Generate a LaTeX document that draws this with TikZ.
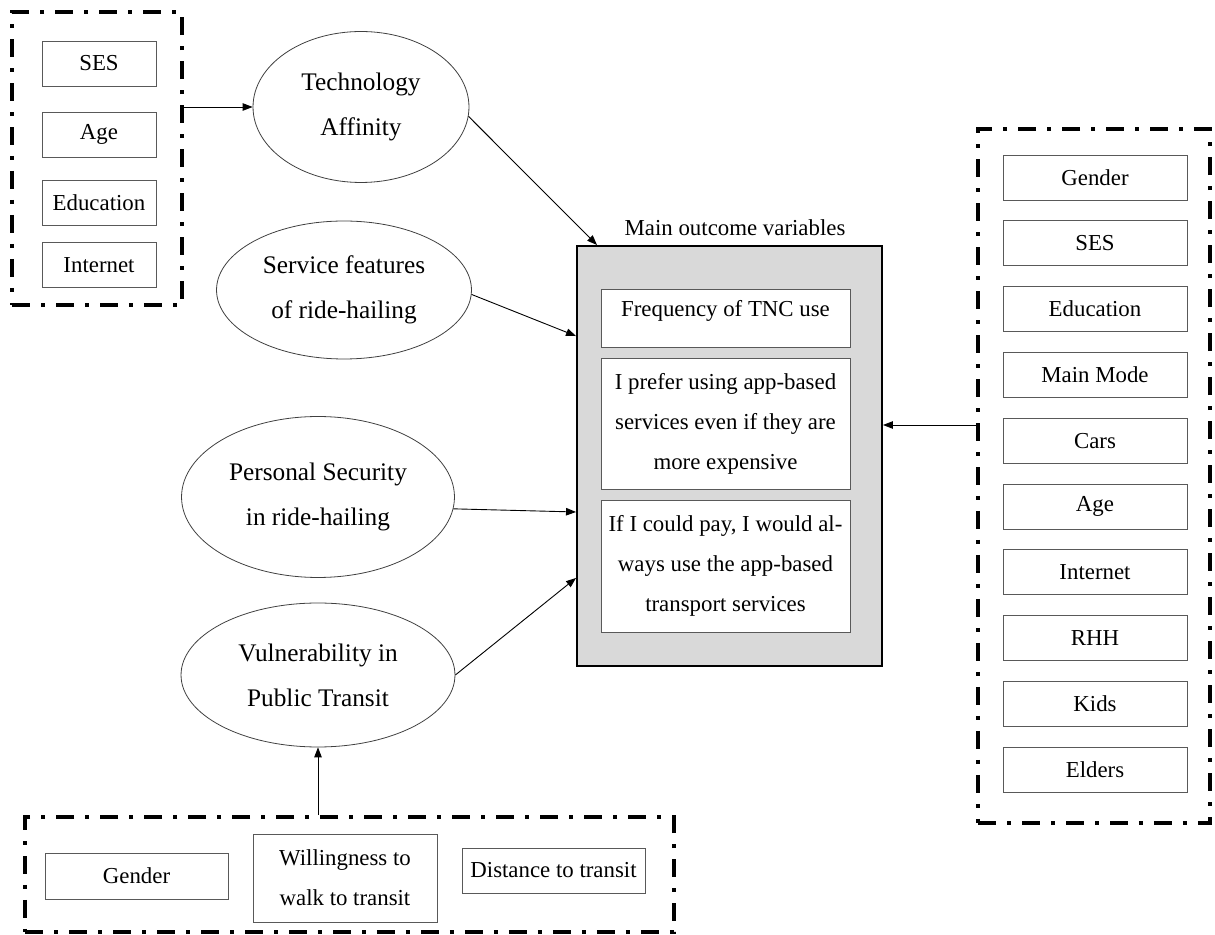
\documentclass[tikz,border=0pt]{standalone}
\usepackage{fontspec}
\setmainfont{Liberation Serif}
\usetikzlibrary{shapes.geometric,arrows.meta}

\tikzset{
  grp/.style={draw, line width=0.08cm, dash pattern=on 0.36cm off 0.22cm on 0.08cm off 0.22cm, inner sep=0pt},
  var/.style={draw=black!65, line width=0.018cm, minimum height=0.9cm, inner sep=0pt,
    font=\fontsize{13}{22.8}\selectfont, align=center},
  construct/.style={ellipse, draw=black!75, line width=0.016cm, inner sep=0pt,
    font=\fontsize{14.4}{25.6}\selectfont, align=center},
  link/.style={line width=0.018cm, -{Triangle[length=0.2cm,width=0.15cm]}},
}

\begin{document}
\begin{tikzpicture}[x=0.02cm,y=-0.02cm]
  \useasboundingbox (0,0) rectangle (1215,935);

  % groups of covariates
  \node[grp, minimum width=3.4cm, minimum height=5.86cm] (demo) at (97,158.5) {};
  \node[grp, minimum width=4.64cm, minimum height=13.88cm] (rgrp) at (1094,476) {};
  \node[grp, minimum width=12.98cm, minimum height=2.3cm] (trans) at (349.5,874.5) {};

  \foreach \name/\y in {SES/63.5, Age/134.5, Education/202.5, Internet/265}
    \node[var, minimum width=2.28cm] (l\name) at (99,\y) {\name};

  \foreach \name [count=\i from 0] in {Gender, SES, Education, Main Mode, Cars, Age, Internet, RHH, Kids, Elders}
    \node[var, minimum width=3.68cm] (r\i) at (1095,{177.5+65.8*\i}) {\name};

  \node[var, minimum width=3.66cm, minimum height=0.92cm] (bgender) at (136.5,876) {Gender};
  \node[var, minimum width=3.68cm, minimum height=1.76cm] (walk) at (345,878) {Willingness to\\walk to transit};
  \node[var, minimum width=3.66cm] (dist) at (553.5,870.5) {Distance to transit};

  % latent constructs
  \node[construct, minimum width=4.32cm, minimum height=3.02cm] (tech) at (361,107) {Technology\\Affinity};
  \node[construct, minimum width=5.1cm, minimum height=2.76cm] (serv) at (344,290) {Service features\\of ride-hailing};
  \node[construct, minimum width=5.46cm, minimum height=3.22cm] (pers) at (318,497) {Personal Security\\in ride-hailing};
  \node[construct, minimum width=5.48cm, minimum height=2.88cm] (vuln) at (318,675) {Vulnerability in\\Public Transit};

  % outcomes
  \node[draw, fill=black!15, line width=0.04cm, minimum width=6.1cm, minimum height=8.4cm] (main) at (729.5,456) {};
  \node[font=\fontsize{13}{22.8}\selectfont] (title) at (735,228) {Main outcome variables};
  \node[var, fill=white, minimum width=4.98cm, minimum height=1.16cm, text depth=0.4cm] (freq) at (725.5,318) {Frequency of TNC use};
  \node[var, fill=white, minimum width=4.98cm, minimum height=2.62cm] (pref) at (725.5,423.5)
    {I prefer using app-based\\services even if they are\\more expensive};
  \node[var, fill=white, minimum width=4.98cm, minimum height=2.64cm] (pay) at (725.5,566)
    {If I could pay, I would al-\\ways use the app-based\\transport services};

  % paths
  \draw[link] (tech.west -| demo.east) -- (tech.west);
  \draw[link] (tech.-5) -- ([xshift=0.42cm]main.north west);
  \draw[link] (serv.-2) -- ([yshift=2.4cm]main.west);
  \draw[link] (pers.-5) -- ([yshift=-1.12cm]main.west);
  \draw[link] (vuln.east) -- ([yshift=-2.44cm]main.west);
  \coordinate (rin) at ([yshift=0.62cm]main.east);
  \draw[link] (rin -| rgrp.west) -- (rin);
  \draw[link] (vuln.south |- trans.north) -- (vuln.south);
\end{tikzpicture}
\end{document}
